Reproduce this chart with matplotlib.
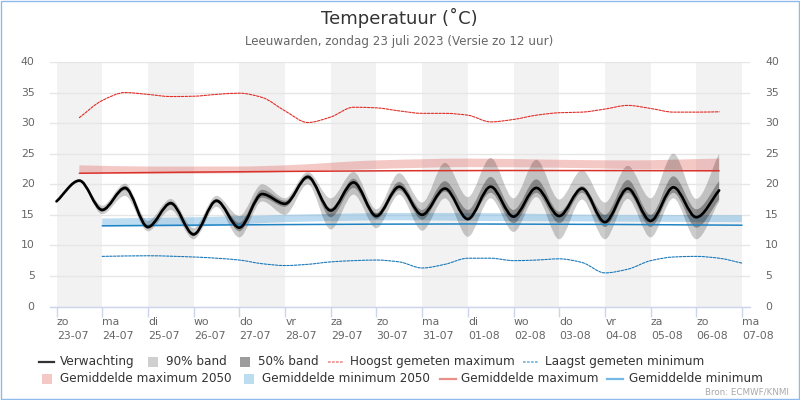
import matplotlib
matplotlib.use("Agg")
import matplotlib.pyplot as plt
import numpy as np
from matplotlib.path import Path
from matplotlib.patches import PathPatch, Rectangle
from matplotlib.lines import Line2D

# Readings every 12 hours, day 0 to day 14.5
forecast = [17.2,20.6,15.8,19.4,13.0,16.9,11.8,17.3,12.9,18.4,16.8,21.2,15.7,20.3,14.8,19.6,15.0,19.3,14.3,19.6,14.7,19.4,14.8,19.3,13.8,19.3,14.0,19.5,14.6,19.0]
p95 = [17.3,20.8,16.5,20.1,14.0,17.6,12.8,18.1,14.8,20.0,17.7,22.0,17.7,22.0,15.9,21.8,17.0,23.5,17.9,24.3,17.7,24.0,17.5,22.3,17.0,23.0,17.7,25.0,17.6,25.0]
p05 = [17.1,20.3,15.1,18.1,12.3,15.8,11.0,16.3,11.3,17.2,15.0,20.0,12.6,18.3,12.8,18.3,12.4,17.7,11.4,17.7,12.2,17.9,11.0,17.5,11.0,17.6,11.3,17.7,11.0,17.2]
p75 = [17.25,20.7,16.1,19.7,13.3,17.2,12.1,17.6,13.7,19.1,17.3,21.6,16.1,20.9,15.3,20.4,15.8,20.5,15.8,21.2,15.8,20.8,15.5,19.7,15.0,20.7,15.0,21.3,15.9,20.5]
p25 = [17.15,20.5,15.5,19.0,12.7,16.6,11.5,17.0,12.3,17.8,16.3,20.8,14.6,19.4,14.3,19.0,14.2,18.8,14.1,18.6,13.6,18.6,13.6,18.6,13.0,18.6,13.0,18.6,12.9,17.5]
days_fc = [i * 0.5 for i in range(len(forecast))]

record_max_days = [0.5,1,1.5,2,2.5,3,3.5,4,4.5,5,5.5,6,6.5,7,7.5,8,8.5,9,9.5,10,10.5,11,11.5,12,12.5,13,13.5,14,14.5]
record_max = [30.9,33.7,35.0,34.7,34.35,34.4,34.7,34.9,34.2,32.0,30.1,31.0,32.6,32.5,32.0,31.6,31.6,31.3,30.2,30.6,31.3,31.7,31.8,32.3,32.9,32.4,31.8,31.8,31.85]
record_min_days = [1,2,3,3.5,4,4.5,5,5.5,6,6.5,7,7.5,8,8.5,9,9.5,10,10.5,11,11.5,12,12.5,13,13.5,14,14.5,15]
record_min = [8.2,8.3,8.1,7.9,7.6,7.0,6.7,6.9,7.3,7.5,7.6,7.3,6.3,6.9,7.9,7.9,7.5,7.6,7.8,7.2,5.5,6.1,7.5,8.1,8.2,7.9,7.1]

mean_max_days = [0.5,5,10,14.5]
mean_max = [21.8,22.1,22.25,22.2]
mean_min_days = [1,5,9,15]
mean_min = [13.2,13.4,13.5,13.3]

max2050_days = [0.5,2,4,5,7,9,11,12.5,14.5]
max2050_hi = [23.1,22.9,22.9,23.1,23.9,24.2,24.0,23.9,24.2]
max2050_lo = [21.8,21.7,21.8,22.0,22.5,22.8,22.7,22.5,22.3]
min2050_days = [1,3,5,7.5,9,12,15]
min2050_hi = [14.4,14.6,15.0,15.3,15.3,15.0,14.95]
min2050_lo = [13.1,13.1,13.8,14.1,14.0,13.9,13.8]

day_names = ["zo","ma","di","wo","do","vr","za","zo","ma","di","wo","do","vr","za","zo","ma"]
dates = ["23-07","24-07","25-07","26-07","27-07","28-07","29-07","30-07","31-07","01-08","02-08","03-08","04-08","05-08","06-08","07-08"]
y_ticks = [0,5,10,15,20,25,30,35,40]


def curve(x, y):
    """Smooth Bezier segments through the readings; horizontal at local extremes."""
    x, y = np.asarray(x, float), np.asarray(y, float)
    s = np.diff(y) / np.diff(x)
    m = np.zeros(len(x))
    for i in range(1, len(x) - 1):
        if s[i - 1] * s[i] > 0:
            m[i] = 2 * s[i - 1] * s[i] / (s[i - 1] + s[i])
    m[0], m[-1] = s[0], s[-1]
    v, c = [(x[0], y[0])], [Path.MOVETO]
    for i in range(len(x) - 1):
        h = (x[i + 1] - x[i]) / 3
        v += [(x[i] + h, y[i] + m[i] * h), (x[i + 1] - h, y[i + 1] - m[i + 1] * h), (x[i + 1], y[i + 1])]
        c += [Path.CURVE4] * 3
    return v, c


def draw_line(ax, x, y, **kw):
    v, c = curve(x, y)
    ax.add_patch(PathPatch(Path(v, c), fill=False, capstyle="round", joinstyle="round", **kw))


def draw_band(ax, x, lo, hi, color, alpha, zorder):
    v1, c1 = curve(x, hi)
    v2, c2 = curve(x[::-1], lo[::-1])
    c2[0] = Path.LINETO
    v = v1 + v2 + [v1[0]]
    c = c1 + c2 + [Path.CLOSEPOLY]
    ax.add_patch(PathPatch(Path(v, c), facecolor=color, edgecolor="none", alpha=alpha, zorder=zorder))


W, H = 800, 400
fig = plt.figure(figsize=(8, 4), dpi=100, facecolor="white")
ax = fig.add_axes([50 / W, 1 - 306.5 / H, 700 / W, 244.5 / H])
ax.set_xlim((50 - 56.5) / 45.7, (750 - 56.5) / 45.7)
ax.set_ylim(0, 40)

for d in range(0, 15, 2):
    ax.axvspan(d, d + 1, color="#f2f2f2", lw=0, zorder=0)
ax.set_yticks(y_ticks)
ax.grid(axis="y", color="#e6e6e6", lw=1, zorder=1)
ax.set_axisbelow(True)
for s in ["top", "left", "right"]:
    ax.spines[s].set_visible(False)
ax.spines["bottom"].set_color("#ccd6eb")
ax.spines["bottom"].set_linewidth(1)

ax.set_xticks(range(16))
ax.set_xticklabels([])
ax.tick_params(axis="x", length=7.2, width=1, color="#ccd6eb")
ax.tick_params(axis="y", length=0, labelleft=False)
for d, (n, t) in enumerate(zip(day_names, dates)):
    ax.annotate(n, (d, 0), xytext=(0.2, -11), textcoords="offset points", ha="left", va="center", color="#666666", fontsize=7.8)
    ax.annotate(t, (d, 0), xytext=(0.2, -21), textcoords="offset points", ha="left", va="center", color="#666666", fontsize=7.8)
for t in y_ticks:
    ax.annotate(str(t), (0, t), xycoords=("axes fraction", "data"), xytext=(-11, 0), textcoords="offset points", ha="right", va="center", color="#666666", fontsize=7.8)
    ax.annotate(str(t), (1, t), xycoords=("axes fraction", "data"), xytext=(11, 0), textcoords="offset points", ha="left", va="center", color="#666666", fontsize=7.8)

draw_band(ax, max2050_days, max2050_lo, max2050_hi, "#e0675f", 0.36, 2)
draw_band(ax, min2050_days, min2050_lo, min2050_hi, "#5aa9dc", 0.4, 2)
draw_band(ax, days_fc, p05, p95, "#000000", 0.2, 3)
draw_band(ax, days_fc, p25, p75, "#000000", 0.3, 4)
draw_line(ax, mean_max_days, mean_max, edgecolor="#d9322b", lw=1.1, zorder=5)
draw_line(ax, mean_min_days, mean_min, edgecolor="#1f84c4", lw=1.1, zorder=5)
draw_line(ax, record_max_days, record_max, edgecolor="#e02c26", lw=0.8, linestyle=(0, (2.2, 1.2)), zorder=5)
draw_line(ax, record_min_days, record_min, edgecolor="#1a78b8", lw=0.8, linestyle=(0, (2.2, 1.2)), zorder=5)
draw_line(ax, days_fc, forecast, edgecolor="#000000", lw=1.9, zorder=6)

# Texts
fig.text(399 / W, 1 - 18 / H, "Temperatuur (˚C)", ha="center", va="center", fontsize=13, color="#333333")
fig.text(399 / W, 1 - 42 / H, "Leeuwarden, zondag 23 juli 2023 (Versie zo 12 uur)", ha="center", va="center", fontsize=8.6, color="#666666")
fig.text(789 / W, 1 - 392 / H, "Bron: ECMWF/KNMI", ha="right", va="center", fontsize=6.3, color="#a8a8a8")


def leg_line(x0, x1, y, color, lw, ls="-"):
    fig.add_artist(Line2D([x0 / W, x1 / W], [1 - y / H] * 2, color=color, lw=lw, linestyle=ls, transform=fig.transFigure))


def leg_patch(x0, y, color):
    fig.add_artist(Rectangle((x0 / W, 1 - (y + 5) / H), 10 / W, 10 / H, facecolor=color, edgecolor="none", transform=fig.transFigure))


def leg_text(x, y, s):
    fig.text(x / W, 1 - y / H, s, ha="left", va="center", fontsize=8.65, color="#333333")


R1, R2 = 361.5, 378.5
leg_line(39, 54, R1, "#333333", 1.6); leg_text(60, R1, "Verwachting")
leg_patch(148, R1, "#cfcfcf"); leg_text(166, R1, "90% band")
leg_patch(240, R1, "#9c9c9c"); leg_text(258, R1, "50% band")
leg_line(328, 344, R1, "#ee8b87", 1.2, (0, (1.6, 0.8))); leg_text(350, R1, "Hoogst gemeten maximum")
leg_line(523, 539, R1, "#6fb3dc", 1.2, (0, (1.6, 0.8))); leg_text(545, R1, "Laagst gemeten minimum")
leg_patch(42, R2, "#f4c9c5"); leg_text(60, R2, "Gemiddelde maximum 2050")
leg_patch(244, R2, "#bcdcf0"); leg_text(262, R2, "Gemiddelde minimum 2050")
leg_line(440, 456, R2, "#e88f8a", 1.6); leg_text(461, R2, "Gemiddelde maximum")
leg_line(607, 623, R2, "#74b9e4", 1.6); leg_text(629, R2, "Gemiddelde minimum")

fig.add_artist(Rectangle((0.5 / W, 1.5 / H), 798 / W, 398 / H, fill=False, edgecolor="#8fb8ec", lw=1, transform=fig.transFigure))

fig.savefig("out.png", dpi=100)
